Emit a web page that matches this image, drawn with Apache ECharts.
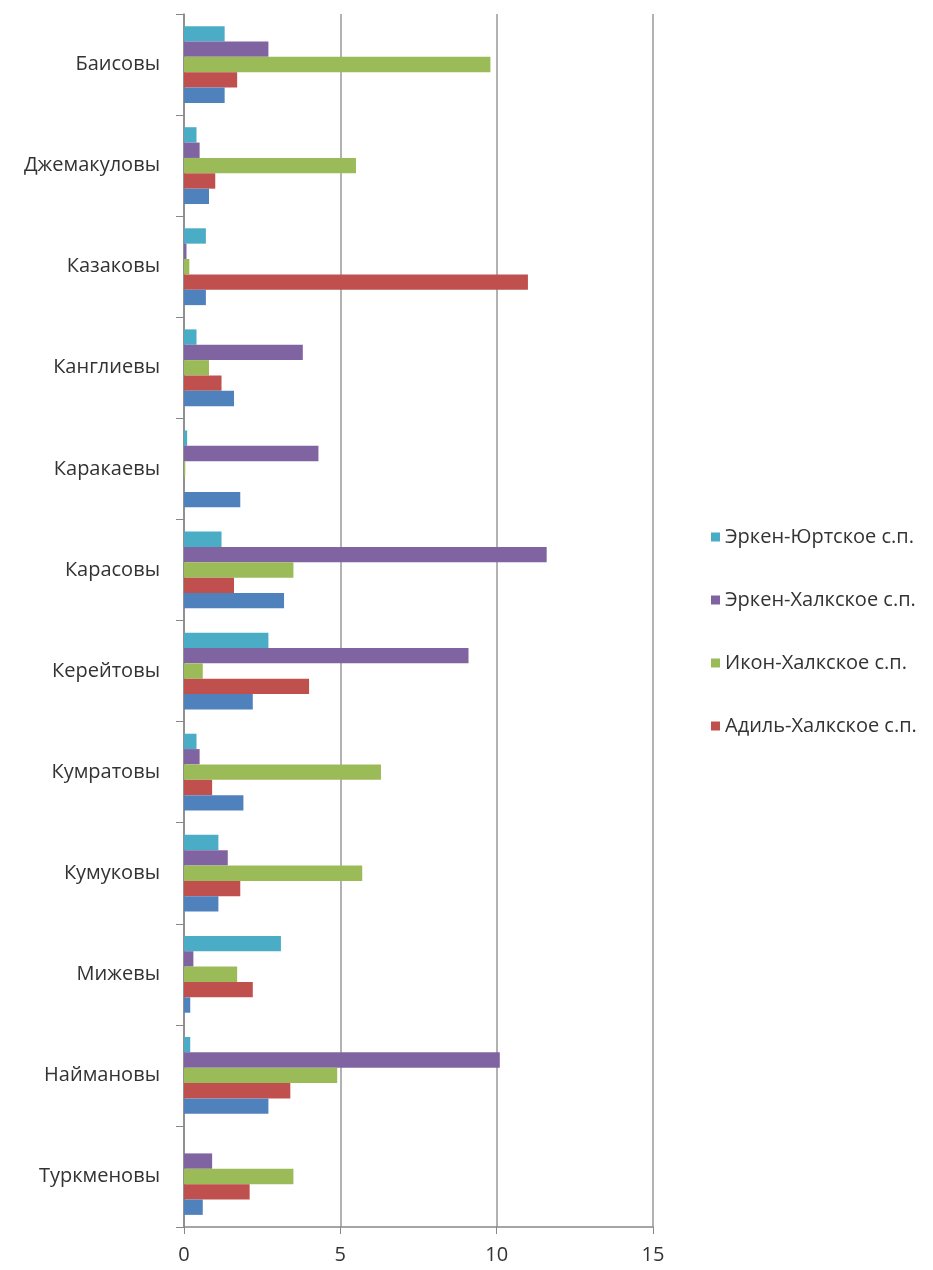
<!DOCTYPE html>
<html>
<head>
<meta charset="utf-8">
<script src="https://cdn.jsdelivr.net/npm/echarts@6/dist/echarts.min.js"></script>
<style>
    html, body { margin: 0; padding: 0; background: #fff; }
    #chart { width: 933px; height: 1270px; }
</style>
</head>
<body>
<div id="chart"></div>
<script>
    // фамилии (сверху вниз)
    var families = ['Баисовы', 'Джемакуловы', 'Казаковы', 'Канглиевы', 'Каракаевы', 'Карасовы',
        'Керейтовы', 'Кумратовы', 'Кумуковы', 'Мижевы', 'Наймановы', 'Туркменовы'];

    var erkenYurt = [1.3, 0.4, 0.7, 0.4, 0.1, 1.2, 2.7, 0.4, 1.1, 3.1, 0.2, 0];
    var erkenHalk = [2.7, 0.5, 0.08, 3.8, 4.3, 11.6, 9.1, 0.5, 1.4, 0.3, 10.1, 0.9];
    var ikonHalk  = [9.8, 5.5, 0.17, 0.8, 0.04, 3.5, 0.6, 6.3, 5.7, 1.7, 4.9, 3.5];
    var adilHalk  = [1.7, 1.0, 11.0, 1.2, 0, 1.6, 4.0, 0.9, 1.8, 2.2, 3.4, 2.1];
    var fifth     = [1.3, 0.8, 0.7, 1.6, 1.8, 3.2, 2.2, 1.9, 1.1, 0.2, 2.7, 0.6];

    var xTicks = [0, 5, 10, 15];

    var chart = echarts.init(document.getElementById('chart'));

    function bar(name, data, color) {
        return {
            name: name,
            type: 'bar',
            data: data,
            barGap: '0%',
            barCategoryGap: '24%',
            itemStyle: { color: color },
            emphasis: { disabled: true }
        };
    }

    var option = {
        animation: false,
        textStyle: { fontFamily: 'Open Sans' },
        grid: { left: 184, top: 14, right: 280, bottom: 43 },
        legend: {
            orient: 'vertical',
            left: 706,
            top: 522,
            itemWidth: 9,
            itemHeight: 9,
            itemGap: 43,
            icon: 'rect',
            textStyle: { fontSize: 20, color: '#333', fontFamily: 'Open Sans' },
            data: ['Эркен-Юртское с.п.', 'Эркен-Халкское с.п.', 'Икон-Халкское с.п.', 'Адиль-Халкское с.п.']
        },
        xAxis: {
            type: 'value',
            min: xTicks[0],
            max: xTicks[xTicks.length - 1],
            interval: 5,
            axisLine: { show: true, lineStyle: { color: '#888', width: 1.5 } },
            axisTick: { show: true, length: 7, lineStyle: { color: '#888' } },
            axisLabel: { fontSize: 20, color: '#333', margin: 18 },
            splitLine: { show: true, lineStyle: { color: '#999', width: 1.5 } }
        },
        yAxis: {
            type: 'category',
            data: families,
            inverse: true,
            axisLine: { show: true, lineStyle: { color: '#888', width: 1.5 } },
            axisTick: { show: true, length: 8, lineStyle: { color: '#888' } },
            axisLabel: { fontSize: 20, color: '#333', margin: 24 }
        },
        series: [
            bar('Эркен-Юртское с.п.', erkenYurt, '#4BACC6'),
            bar('Эркен-Халкское с.п.', erkenHalk, '#8064A2'),
            bar('Икон-Халкское с.п.', ikonHalk, '#9BBB59'),
            bar('Адиль-Халкское с.п.', adilHalk, '#C0504D'),
            bar('Ряд 5', fifth, '#4F81BD')
        ]
    };

    chart.setOption(option);
</script>
</body>
</html>
